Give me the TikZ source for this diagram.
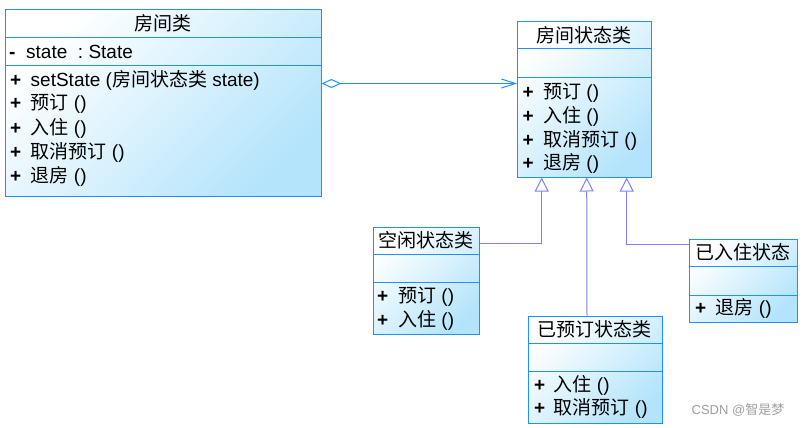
\documentclass[tikz,border=0pt]{standalone}
\usepackage{fontspec}
\setmainfont{Liberation Sans}
\newfontfamily\zhfont{Noto Sans CJK SC}
\usetikzlibrary{arrows.meta, positioning}

\definecolor{umlborder}{HTML}{1E90FF}
\definecolor{umlfill}{HTML}{B4E4FB}
\definecolor{genline}{HTML}{7F7FFF}

\newcommand{\zh}[1]{{\zhfont #1}}
\newcommand{\pub}[1]{\makebox[20.5pt][l]{\textbf{+}}#1}

\tikzset{
    classbox/.style={draw=umlborder, line width=1pt, top color=white, bottom color=umlfill, shading angle=45, anchor=north west, inner sep=0pt},
    divider/.style={draw=umlborder, line width=1pt},
    member/.style={anchor=west, inner sep=0pt, font=\fontsize{19}{22}\selectfont},
    classname/.style={inner sep=0pt, font=\fontsize{19}{22}\selectfont},
    aggregate/.style={draw=umlborder, line width=1pt, {Diamond[open, length=20pt, width=9pt]}-{Straight Barb[length=14pt, width=9pt]}},
    generalize/.style={draw=genline, line width=1pt, -{Triangle[open, length=14pt, width=14pt, fill=white]}},
}

\begin{document}
\begin{tikzpicture}[x=1pt, y=-1pt]
    \useasboundingbox (0,0) rectangle (804,428);

    \node[classbox, minimum width=316pt, minimum height=186.5pt] (room) at (4.5,9.5) {};
    \draw[divider] ([yshift=-28pt]room.north west) -- ([yshift=-28pt]room.north east);
    \draw[divider] ([yshift=-56pt]room.north west) -- ([yshift=-56pt]room.north east);
    \node[classname] (room-name) at (162.5,23.5) {\zh{房间类}};
    \node[member] (room-a1) at (9,51.5) {\makebox[17pt][l]{\textbf{-}}state\ \ :\ State};
    \node[member] (room-m1) at (10,80) {\pub{setState (\zh{房间状态类} state)}};
    \node[member] (room-m2) at (10,104) {\pub{\zh{预订} ()}};
    \node[member] (room-m3) at (10,128) {\pub{\zh{入住} ()}};
    \node[member] (room-m4) at (10,152) {\pub{\zh{取消预订} ()}};
    \node[member] (room-m5) at (10,176) {\pub{\zh{退房} ()}};

    \node[classbox, minimum width=134pt, minimum height=155pt] (base) at (517,21.5) {};
    \draw[divider] ([yshift=-27.5pt]base.north west) -- ([yshift=-27.5pt]base.north east);
    \draw[divider] ([yshift=-56pt]base.north west) -- ([yshift=-56pt]base.north east);
    \node[classname] (base-name) at (584,35) {\zh{房间状态类}};
    \node[member] (base-m1) at (522.5,93) {\pub{\zh{预订} ()}};
    \node[member] (base-m2) at (522.5,116.5) {\pub{\zh{入住} ()}};
    \node[member] (base-m3) at (522.5,140) {\pub{\zh{取消预订} ()}};
    \node[member] (base-m4) at (522.5,163.5) {\pub{\zh{退房} ()}};

    \node[classbox, minimum width=106.5pt, minimum height=107.5pt] (idle) at (372.5,226.5) {};
    \draw[divider] ([yshift=-27.5pt]idle.north west) -- ([yshift=-27.5pt]idle.north east);
    \draw[divider] ([yshift=-56pt]idle.north west) -- ([yshift=-56pt]idle.north east);
    \node[classname] (idle-name) at (425.8,240.5) {\zh{空闲状态类}};
    \node[member] (idle-m1) at (377,297) {\makebox[21pt][l]{\textbf{+}}\zh{预订} ()};
    \node[member] (idle-m2) at (377,320.5) {\makebox[21pt][l]{\textbf{+}}\zh{入住} ()};

    \node[classbox, minimum width=107.5pt, minimum height=83pt] (checkedin) at (689,239) {};
    \draw[divider] ([yshift=-27.5pt]checkedin.north west) -- ([yshift=-27.5pt]checkedin.north east);
    \draw[divider] ([yshift=-56pt]checkedin.north west) -- ([yshift=-56pt]checkedin.north east);
    \node[classname] (checkedin-name) at (742.7,252.7) {\zh{已入住状态}};
    \node[member] (checkedin-m1) at (695,308.5) {\pub{\zh{退房} ()}};

    \node[classbox, minimum width=134pt, minimum height=107.5pt] (booked) at (527.5,315.5) {};
    \draw[divider] ([yshift=-27.5pt]booked.north west) -- ([yshift=-27.5pt]booked.north east);
    \draw[divider] ([yshift=-56pt]booked.north west) -- ([yshift=-56pt]booked.north east);
    \node[classname] (booked-name) at (594.5,329) {\zh{已预订状态类}};
    \node[member] (booked-m1) at (534,385) {\makebox[19.5pt][l]{\textbf{+}}\zh{入住} ()};
    \node[member] (booked-m2) at (534,408) {\makebox[19.5pt][l]{\textbf{+}}\zh{取消预订} ()};

    \draw[aggregate] ([yshift=-74pt]room.north east) -- ([yshift=-62pt]base.north west);
    \draw[generalize] ([yshift=-16.8pt]idle.north east) -| ([xshift=24.7pt]base.south west);
    \draw[generalize] ([xshift=-8pt]booked.north) -- ([xshift=69.7pt]base.south west);
    \draw[generalize] ([yshift=-5.3pt]checkedin.north west) -| ([xshift=109.7pt]base.south west);

    \node[text=gray!75, font=\fontsize{13}{13}\selectfont] (mark) at (738,410) {CSDN @\zh{智是梦}};
\end{tikzpicture}
\end{document}
